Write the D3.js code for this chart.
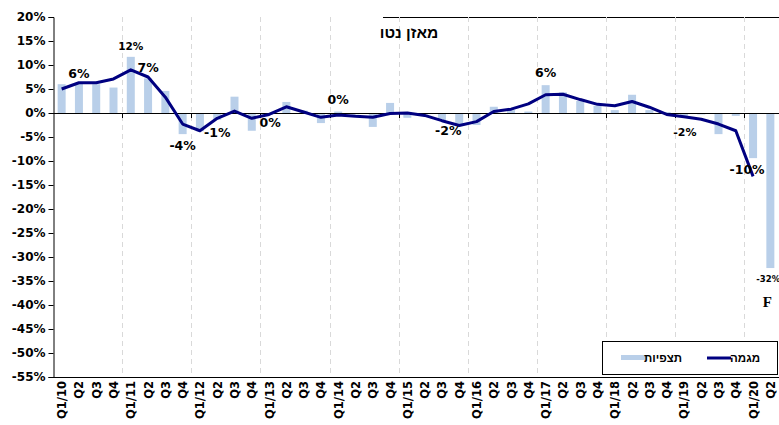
<!DOCTYPE html>
<html>
<head>
<meta charset="utf-8">
<script src="https://cdn.jsdelivr.net/npm/d3@7"></script>
<style>
  html, body { margin: 0; padding: 0; background: #fff; }
  svg { display: block; }
</style>
</head>
<body>
<svg id="chart" width="779" height="425"></svg>
<script>
// ---- data ----
const categories = [
  "Q1/10","Q2","Q3","Q4",
  "Q1/11","Q2","Q3","Q4",
  "Q1/12","Q2","Q3","Q4",
  "Q1/13","Q2","Q3","Q4",
  "Q1/14","Q2","Q3","Q4",
  "Q1/15","Q2","Q3","Q4",
  "Q1/16","Q2","Q3","Q4",
  "Q1/17","Q2","Q3","Q4",
  "Q1/18","Q2","Q3","Q4",
  "Q1/19","Q2","Q3","Q4",
  "Q1/20","Q2"
];
const observations = [
  6, 6.1, 6, 5.3,
  11.7, 7.2, 4.6, -4.4,
  -3.8, -1.4, 3.4, -3.7,
  -0.3, 2.3, 0.5, -2.1,
  0.3, -0.3, -2.9, 2.1,
  -1, -0.3, -1.6, -2.5,
  -2.5, 1.3, 0.6, 0.3,
  5.8, 4.3, 2.5, 1.5,
  0.6, 3.8, 0.6, 0.2,
  -0.6, -0.3, -4.4, -0.6,
  -9.4, -32.3
];
const trend = [
  5, 6.3, 6.3, 7.1,
  9, 7.5, 3.3, -2.3,
  -3.7, -1.1, 0.4, -1.1,
  -0.3, 1.3, 0.2, -0.9,
  -0.4, -0.7, -0.9, -0.1,
  0, -0.5, -1.6, -2.6,
  -1.8, 0.3, 0.8, 1.9,
  3.8, 3.9, 2.8, 1.8,
  1.5, 2.4, 1.2, -0.3,
  -0.8, -1.3, -2.3, -3.7,
  -13.2, null
];
const yTicks = [20, 15, 10, 5, 0, -5, -10, -15, -20, -25, -30, -35, -40, -45, -50, -55];
const dataLabels = [
  { i: 1,  value: 6,   text: "6%" },
  { i: 4,  value: 12,  text: "12%" },
  { i: 5,  value: 7,   text: "7%" },
  { i: 7,  value: -4,  text: "-4%" },
  { i: 9,  value: -1,  text: "-1%" },
  { i: 12, value: 0,   text: "0%" },
  { i: 16, value: 0,   text: "0%" },
  { i: 23, value: -2,  text: "-2%" },
  { i: 28, value: 6,   text: "6%" },
  { i: 36, value: -2,  text: "-2%" },
  { i: 40, value: -10, text: "-10%" },
  { i: 41, value: -32, text: "-32%" }
];
const chartTitle = "מאזן נטו";
const seriesNames = ["תצפיות", "מגמה"];
const forecastMark = "F";

// ---- layout / style ----
const BAR = "#b9cfe9";
const LINE = "#000080";
const FONT = "'DejaVu Sans', sans-serif";
const HFONT = "'Liberation Sans', Arial, 'DejaVu Sans', sans-serif";
const pL = 53, pR = 779, pT = 17, pB = 377;

const svg = d3.select("#chart");

const x = d3.scaleBand().domain(d3.range(categories.length)).range([pL, pR]).padding(0);
const y = d3.scaleLinear().domain([-55, 20]).range([pB, pT]);
const bw = x.bandwidth();
const xc = i => x(i) + bw / 2;

// partial top border
svg.append("line").attr("x1", 383).attr("x2", pR).attr("y1", pT + 0.5).attr("y2", pT + 0.5)
  .attr("stroke", "#000").attr("stroke-width", 1);

// year gridlines (dashed)
const yearStarts = d3.range(4, categories.length, 4);
svg.append("g").selectAll("line").data(yearStarts).join("line")
  .attr("x1", d => Math.round(x(d)) + 0.5).attr("x2", d => Math.round(x(d)) + 0.5)
  .attr("y1", pT).attr("y2", pB)
  .attr("stroke", "#d9d9d9").attr("stroke-width", 1).attr("stroke-dasharray", "5,4");

// bars
svg.append("g").selectAll("rect").data(observations).join("rect")
  .attr("x", (d, i) => xc(i) - 4)
  .attr("width", 8)
  .attr("y", d => y(Math.max(0, d)))
  .attr("height", d => Math.abs(y(d) - y(0)))
  .attr("fill", BAR);

// zero line + ticks at year boundaries
svg.append("line").attr("x1", pL).attr("x2", pR)
  .attr("y1", Math.round(y(0)) + 0.5).attr("y2", Math.round(y(0)) + 0.5)
  .attr("stroke", "#000").attr("stroke-width", 1);
svg.append("g").selectAll("line").data(yearStarts).join("line")
  .attr("x1", d => Math.round(x(d)) + 0.5).attr("x2", d => Math.round(x(d)) + 0.5)
  .attr("y1", y(0)).attr("y2", y(0) + 5)
  .attr("stroke", "#000").attr("stroke-width", 1);

// trend line
const line = d3.line()
  .defined(d => d != null)
  .x((d, i) => xc(i))
  .y(d => y(d));
svg.append("path").datum(trend)
  .attr("d", line)
  .attr("fill", "none").attr("stroke", LINE).attr("stroke-width", 3)
  .attr("stroke-linejoin", "round");

// y axis
const yAxis = d3.axisLeft(y).tickValues(yTicks).tickFormat(d => d + "%").tickSize(5).tickPadding(3);
const yg = svg.append("g").attr("transform", `translate(${pL + 0.5},0)`).call(yAxis);
yg.select(".domain").attr("stroke", "#000");
yg.selectAll(".tick line").attr("stroke", "#000");
yg.selectAll("text").attr("font-family", FONT).attr("font-weight", "bold")
  .attr("font-size", "12px").attr("fill", "#000");

// bottom axis line
svg.append("line").attr("x1", pL).attr("x2", pR)
  .attr("y1", pB + 0.5).attr("y2", pB + 0.5).attr("stroke", "#000");

// x labels
svg.append("g").selectAll("text").data(categories).join("text")
  .attr("transform", (d, i) => `translate(${xc(i) + 4.5},${pB + 4}) rotate(-90)`)
  .attr("text-anchor", "end")
  .attr("font-family", FONT).attr("font-weight", "bold").attr("font-size", "11.5px")
  .attr("fill", "#000")
  .text(d => d);

// data labels
const labelDy = [ -6, -5, -7, 18, 19, 14, -9, 12, -7, 13, 13, 15 ];
const labelDx = [ 0, 0, 0, 0, 0, 1, 0, -11, 0, 1, -6, -14 ];
svg.append("g").selectAll("text").data(dataLabels).join("text")
  .attr("x", (d, k) => xc(d.i) + labelDx[k])
  .attr("y", (d, k) => y(d.value) + labelDy[k])
  .attr("text-anchor", d => d.text === "-32%" ? "start" : "middle")
  .attr("font-family", FONT).attr("font-weight", "bold")
  .attr("font-size", d => d.text === "12%" ? "10.5px" : (d.text === "-32%" ? "8.5px" : (d.i === 36 ? "11px" : "12.5px")))
  .attr("fill", "#000")
  .text(d => d.text);

// forecast mark
svg.append("text")
  .attr("x", xc(categories.length - 1) - 3).attr("y", 307)
  .attr("text-anchor", "middle")
  .attr("font-family", "'Liberation Serif', serif").attr("font-weight", "bold").attr("font-size", "15px")
  .text(forecastMark);

// chart title
svg.append("text")
  .attr("x", 409).attr("y", 38)
  .attr("text-anchor", "middle")
  .attr("font-family", HFONT)
  .attr("font-weight", "bold").attr("font-size", "15.5px")
  .text(chartTitle);

// legend
const lg = svg.append("g");
lg.append("rect").attr("x", 602.5).attr("y", 341.5).attr("width", 175).attr("height", 33)
  .attr("fill", "#fff").attr("stroke", "#000").attr("stroke-width", 1);
lg.append("rect").attr("x", 621).attr("y", 355).attr("width", 25).attr("height", 5).attr("fill", BAR);
lg.append("text").attr("x", 682).attr("y", 362).attr("text-anchor", "end")
  .attr("font-family", HFONT).attr("font-weight", "bold").attr("font-size", "11.5px")
  .text(seriesNames[0]);
lg.append("line").attr("x1", 707).attr("x2", 731).attr("y1", 358).attr("y2", 358)
  .attr("stroke", LINE).attr("stroke-width", 3);
lg.append("text").attr("x", 760).attr("y", 362).attr("text-anchor", "end")
  .attr("font-family", HFONT).attr("font-weight", "bold").attr("font-size", "11.5px")
  .text(seriesNames[1]);
</script>
</body>
</html>
